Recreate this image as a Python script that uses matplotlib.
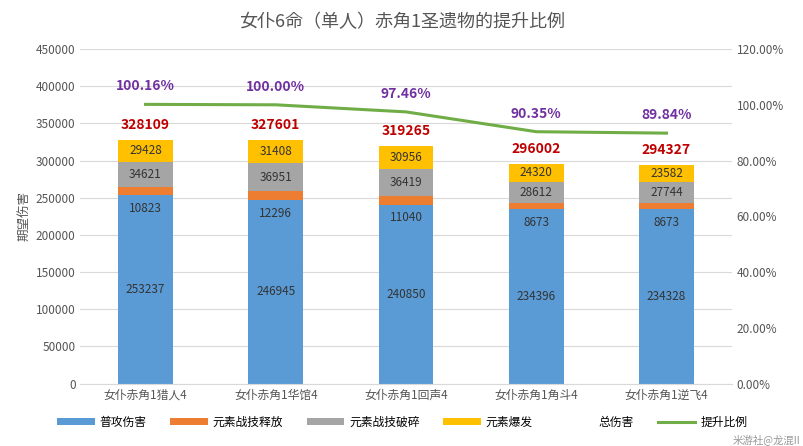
import matplotlib
matplotlib.use("Agg")
import matplotlib.pyplot as plt
from matplotlib import font_manager as fm
import numpy as np

cjk = [f.name for f in fm.fontManager.ttflist if 'CJK' in f.name]
fam = None
for pref in ['Noto Sans CJK SC', 'Noto Sans CJK JP', 'Noto Sans CJK TC', 'Noto Sans CJK KR']:
    if pref in cjk:
        fam = pref
        break
if fam is None and cjk:
    fam = cjk[0]
plt.rcParams['font.family'] = [fam, 'DejaVu Sans'] if fam else ['DejaVu Sans']

categories = ["女仆赤角1猎人4", "女仆赤角1华馆4", "女仆赤角1回声4", "女仆赤角1角斗4", "女仆赤角1逆飞4"]
normal = [253237, 246945, 240850, 234396, 234328]
skill_cast = [10823, 12296, 11040, 8673, 8673]
skill_break = [34621, 36951, 36419, 28612, 27744]
burst = [29428, 31408, 30956, 24320, 23582]
total = [328109, 327601, 319265, 296002, 294327]
ratio = [100.16, 100.00, 97.46, 90.35, 89.84]
ratio_labels = ["100.16%", "100.00%", "97.46%", "90.35%", "89.84%"]

fig = plt.figure(figsize=(8.04, 4.46), dpi=100)
ax = fig.add_axes([0.1, 0.14, 0.81, 0.75])
ax2 = ax.twinx()
x = np.arange(len(categories))
w = 0.42
cols = ['#5b9bd5', '#ed7d31', '#a5a5a5', '#ffc000']
series = [normal, skill_cast, skill_break, burst]
names = ['普攻伤害', '元素战技释放', '元素战技破碎', '元素爆发']
bottom = np.zeros(len(x))
for s, c, n in zip(series, cols, names):
    ax.bar(x, s, w, bottom=bottom, color=c, label=n, zorder=2)
    for i, v in enumerate(s):
        if n == '元素战技释放':
            y = bottom[i] - 18000
        else:
            y = bottom[i] + v / 2
        ax.text(x[i], y, str(v), ha='center', va='center', fontsize=8.5, color='#333333', zorder=3)
    bottom += np.array(s)
ax.bar(x, [0]*len(x), w, color='none', label='总伤害')
for i, v in enumerate(total):
    ax.text(x[i], v + 20000, str(v), ha='center', va='center', fontsize=10, color='#c00000', fontweight='bold')

ax2.plot(x, ratio, color='#70ad47', lw=2.2, label='提升比例')
for i, v in enumerate(ratio):
    ax2.text(x[i], v + 6.5, ratio_labels[i], ha='center', va='center', fontsize=10, color='#7030a0', fontweight='bold')

ax.set_ylim(0, 450000)
ax.set_yticks(np.arange(0, 450001, 50000))
ax2.set_ylim(0, 120)
ax2.set_yticks(np.arange(0, 121, 20))
ax2.set_yticklabels([f"{v:.2f}%" for v in np.arange(0, 121, 20)])
ax.set_xlim(-0.5, 4.5)
ax.set_xticks(x)
ax.set_xticklabels(categories)
ax.set_ylabel('期望伤害', fontsize=9, color='#555555')
ax.grid(axis='y', color='#d9d9d9', lw=0.8, zorder=0)
for a in (ax, ax2):
    for sp in a.spines.values():
        sp.set_visible(False)
    a.tick_params(length=0, labelsize=8.5, colors='#555555')
ax.spines['bottom'].set_visible(True)
ax.spines['bottom'].set_color('#d9d9d9')
fig.suptitle('女仆6命（单人）赤角1圣遗物的提升比例', y=0.97, fontsize=13, color='#555555')

h1, l1 = ax.get_legend_handles_labels()
h2, l2 = ax2.get_legend_handles_labels()
fig.legend(h1 + h2, l1 + l2, loc='lower center', ncol=6, frameon=False, fontsize=8.5,
           bbox_to_anchor=(0.5, 0.015), handlelength=3.2, handleheight=0.6,
           columnspacing=2.0, handletextpad=0.4)
fig.text(0.995, 0.003, '米游社@龙混II', ha='right', va='bottom', fontsize=7.5, color='#999999')
fig.savefig('out.png', dpi=100)
